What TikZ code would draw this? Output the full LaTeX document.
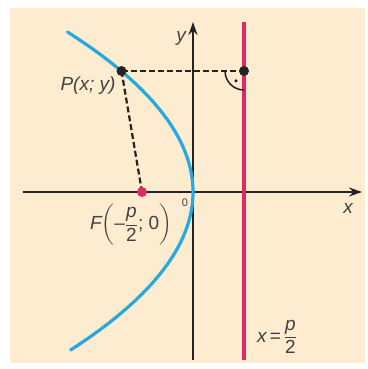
\documentclass[tikz,border=0pt]{standalone}
\usepackage{fontspec}
\usepackage{amsmath}
\setmainfont{Liberation Sans}
\usetikzlibrary{arrows.meta}
\definecolor{bgbeige}{RGB}{253,236,207}
\definecolor{parblue}{RGB}{38,168,224}
\definecolor{dirred}{RGB}{222,42,98}
\definecolor{axisdark}{RGB}{35,35,35}
\definecolor{txtgray}{RGB}{65,65,65}
\tikzset{
  axisline/.style={draw=axisdark,line width=1.6pt,-{Stealth[length=13pt,width=9pt]}},
  dashline/.style={draw=axisdark,line width=2.2pt,dash pattern=on 6pt off 3pt},
  blackdot/.style={circle,fill=axisdark,inner sep=0pt,minimum size=10pt},
  reddot/.style={circle,fill=dirred,inner sep=0pt,minimum size=10pt},
  lbl/.style={text=txtgray,font=\fontsize{19}{22}\selectfont,inner sep=0pt},
  smalllbl/.style={text=txtgray,font=\fontsize{11}{13}\selectfont,inner sep=0pt},
}
\begin{document}
\begin{tikzpicture}[x=1pt,y=1pt]
\useasboundingbox (0,0) rectangle (367,369);
\fill[bgbeige] (10,6) rectangle (365,361);
% axes
\coordinate (xs) at (23,177);
\coordinate (xe) at (362,177);
\coordinate (ys) at (193,9);
\coordinate (ye) at (193,347);
\draw[axisline] (xs) -- (xe);
\draw[axisline] (ys) -- (ye);
% parabola
\draw[parblue,line width=3.2pt,line cap=round] plot[domain=-15.8:16.0,samples=120,smooth,variable=\t] ({193-(\t)*(\t)/2.04},{177+10*\t});
% directrix
\coordinate (ds) at (244,9);
\coordinate (de) at (244,347);
\draw[dirred,line width=3.4pt] (ds) -- (de);
% points
\coordinate (Pc) at (121.5,298);
\coordinate (Qc) at (244,298);
\coordinate (Fc) at (142,177);
\draw[dashline] (Pc) -- (Qc);
\draw[dashline] (Pc) -- (Fc);
% right angle mark
\draw[axisdark,line width=1.5pt] ([shift={(180:19)}]Qc) arc[start angle=180,end angle=270,radius=19pt];
\node[circle,fill=axisdark,inner sep=0pt,minimum size=3.5pt] (ra) at (236,288) {};
\node[blackdot] (P) at (Pc) {};
\node[blackdot] (Q) at (Qc) {};
\node[reddot] (F) at (Fc) {};
% labels
\node[lbl] (ylab) at (181,331) {\itshape y};
\node[lbl] (xlab) at (348,161) {\itshape x};
\node[smalllbl] (olab) at (185,166) {0};
\node[lbl] (Plab) at (88,283) {\itshape P(x; y)};
\node[lbl] (Flab) at (131,144) {\itshape F\upshape$\left(\text{–}\dfrac{\text{\itshape p}}{\text{2}}\text{; 0}\right)$};
\node[lbl] (dlab) at (277,32) {\itshape x\upshape\,$\text{=}\,\dfrac{\text{\itshape p}}{\text{2}}$};
\end{tikzpicture}
\end{document}
